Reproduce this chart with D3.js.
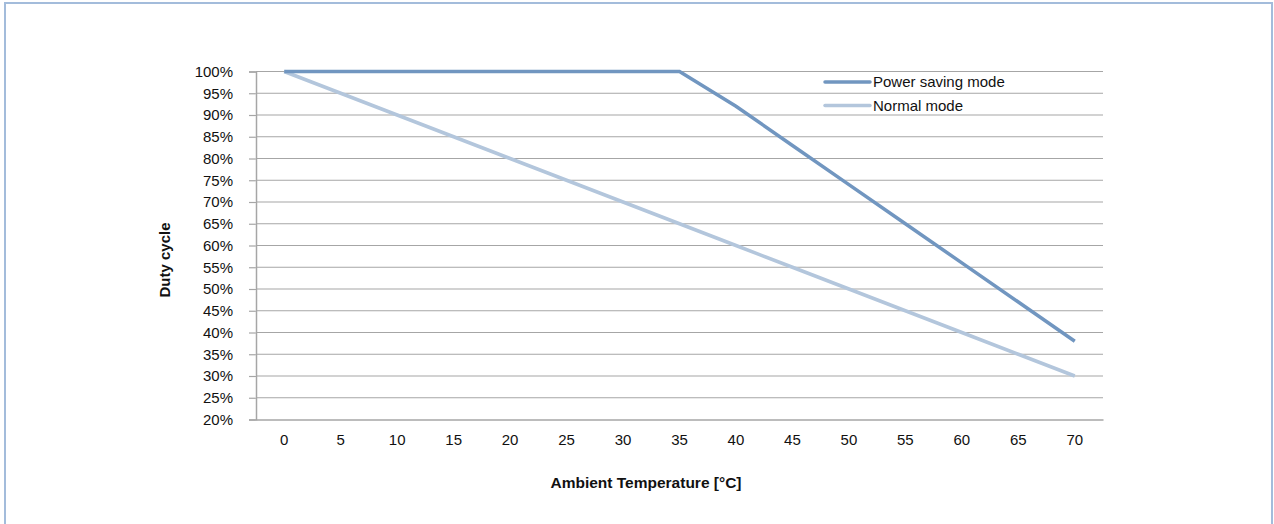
<!DOCTYPE html>
<html><head><meta charset="utf-8">
<script src="https://cdn.jsdelivr.net/npm/d3@7"></script>
<style>
body{margin:0;background:#fff;}
svg{display:block;font-family:"Liberation Sans",Arial,Helvetica,sans-serif;}
</style></head>
<body>
<svg id="c" width="1274" height="524"></svg>
<script>
const temps = [0,5,10,15,20,25,30,35,40,45,50,55,60,65,70];
const powerSaving = [100,100,100,100,100,100,100,100,92,83,74,65,56,47,38];
const normalMode = [100,95,90,85,80,75,70,65,60,55,50,45,40,35,30];
const yTicks = [20,25,30,35,40,45,50,55,60,65,70,75,80,85,90,95,100];
const seriesNames = ["Power saving mode","Normal mode"];
const seriesColors = ["#7196c0","#b3c6dc"];

const svg = d3.select("#c");
svg.append("rect").attr("x",5).attr("y",3).attr("width",1267).attr("height",540)
  .attr("fill","none").attr("stroke","#a3bcdb").attr("stroke-width",2);

const L=256,R=1103,T=71.5,B=419.5;
const x = d3.scaleBand().domain(temps).range([L,R]);
const y = d3.scaleLinear().domain([20,100]).range([B,T]);
const FS = 15;

// gridlines
svg.append("g").selectAll("line").data(yTicks.filter(d=>d>20)).join("line")
  .attr("x1",L).attr("x2",R).attr("y1",d=>y(d)).attr("y2",d=>y(d))
  .attr("stroke","#a6a6a6").attr("stroke-width",1.2);

// y axis
const ya = svg.append("g").attr("transform",`translate(${L},0)`)
  .call(d3.axisLeft(y).tickValues(yTicks).tickSize(7).tickPadding(16).tickFormat(d=>d+"%"));
ya.select(".domain").attr("stroke","#a6a6a6").attr("stroke-width",1.5);
ya.selectAll(".tick line").attr("stroke","#a6a6a6").attr("stroke-width",1.2);
ya.selectAll("text").attr("font-size",FS).attr("fill","#111").attr("font-family","Liberation Sans, Arial, sans-serif");

// x axis
const xa = svg.append("g").attr("transform",`translate(0,${B})`)
  .call(d3.axisBottom(x).tickSize(0).tickPadding(15));
xa.select(".domain").attr("stroke","#a6a6a6").attr("stroke-width",1.5);
xa.selectAll("text").attr("font-size",FS).attr("fill","#111").attr("font-family","Liberation Sans, Arial, sans-serif");

// lines
const line = d3.line().x((d,i)=>x(temps[i])+x.bandwidth()/2).y(d=>y(d));
[normalMode,powerSaving].forEach((s,k)=>{
  const idx = k===0?1:0;
  svg.append("path").datum(s).attr("d",line).attr("fill","none")
    .attr("stroke",seriesColors[idx]).attr("stroke-width",3.5);
});

// legend
seriesNames.forEach((n,i)=>{
  const yy = 82 + i*23.5;
  svg.append("line").attr("x1",825).attr("x2",870).attr("y1",yy).attr("y2",yy)
    .attr("stroke",seriesColors[i]).attr("stroke-width",3.5).attr("stroke-linecap","round");
  svg.append("text").attr("x",873).attr("y",yy+5).attr("font-size",FS).attr("fill","#111").text(n);
});

// titles
svg.append("text").attr("x",646).attr("y",488).attr("text-anchor","middle")
  .attr("font-size",15.5).attr("font-weight","bold").attr("fill","#111").text("Ambient Temperature [°C]");
svg.append("text").attr("transform",`translate(170,260) rotate(-90)`).attr("text-anchor","middle")
  .attr("font-size",FS).attr("font-weight","bold").attr("fill","#111").text("Duty cycle");
</script>
</body></html>
